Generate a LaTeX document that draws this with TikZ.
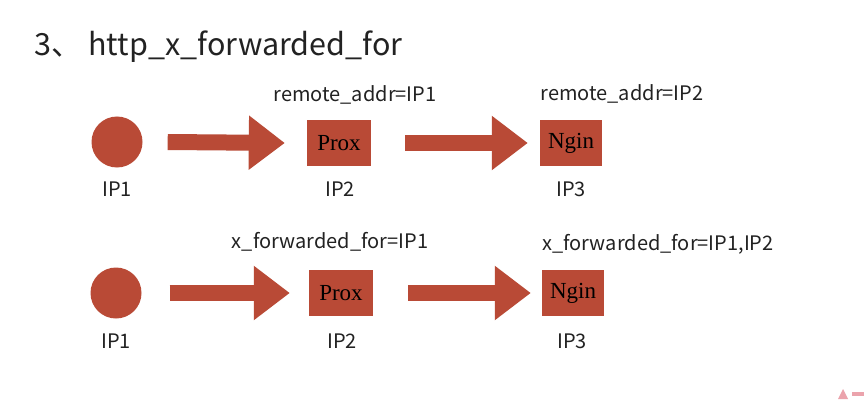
\documentclass[tikz,border=0pt]{standalone}
\usepackage{fontspec}
\setmainfont{Noto Sans CJK SC}
\newfontfamily\labfont{Noto Sans CJK SC}
\newfontfamily\boxfont{Liberation Serif}
\usetikzlibrary{arrows.meta}
\definecolor{brick}{HTML}{B94A36}
\definecolor{txt}{HTML}{222222}
\definecolor{logopink}{HTML}{EBA3AC}
\tikzset{
  dot/.style={circle, fill=brick, minimum size=51pt, inner sep=0pt},
  srv/.style={rectangle, fill=brick, minimum width=64pt, minimum height=46pt, inner sep=0pt, font=\boxfont\fontsize{23}{23}\selectfont, text=black},
  lab/.style={font=\labfont\fontsize{20}{20}\selectfont, text=txt, inner sep=0pt},
  blockarrow/.style={draw=brick, line width=16pt, -{Triangle[width=52pt,length=36pt]}}
}
\begin{document}
\begin{tikzpicture}[x=1pt,y=-1pt]
\useasboundingbox[fill=white] (0,0) rectangle (864,401);
\node[font=\labfont\fontsize{30.5}{30.5}\selectfont, text=txt, anchor=west, inner sep=0pt] (title) at (34,47) {3、 http\_x\_forwarded\_for};

% top row
\node[dot] (c1) at (117,142) {};
\node[srv] (p1) at (339,143) {Prox};
\node[srv, minimum width=62pt] (n1) at (571,143) {Ngin};
\node[lab] (l11) at (117,189) {IP1};
\node[lab] (l12) at (340,189) {IP2};
\node[lab] (l13) at (571,189) {IP3};
\node[lab] (t1) at (355,95) {remote\_addr=IP1};
\node[lab] (t2) at (622,94) {remote\_addr=IP2};
\coordinate (a1s) at ([xshift=25pt]c1.east);
\coordinate (a1e) at ([xshift=-22pt]p1.west);
\coordinate (a2s) at ([xshift=34pt]p1.east);
\coordinate (a2e) at ([xshift=-12pt]n1.west);
\draw[blockarrow] (a1s) -- (a1e);
\draw[blockarrow] (a2s) -- (a2e);

% bottom row
\node[dot] (c2) at (116,293) {};
\node[srv] (p2) at (341,293) {Prox};
\node[srv, minimum width=62pt] (n2) at (573,293) {Ngin};
\node[lab] (l21) at (116,341) {IP1};
\node[lab] (l22) at (342,341) {IP2};
\node[lab] (l23) at (572,341) {IP3};
\node[lab] (t3) at (330,242) {x\_forwarded\_for=IP1};
\node[lab] (t4) at (658,244) {x\_forwarded\_for=IP1,IP2};
\coordinate (b1s) at ([xshift=28pt]c2.east);
\coordinate (b1e) at ([xshift=-19pt]p2.west);
\coordinate (b2s) at ([xshift=35pt]p2.east);
\coordinate (b2e) at ([xshift=-11pt]n2.west);
\draw[blockarrow] (b1s) -- (b1e);
\draw[blockarrow] (b2s) -- (b2e);

% logo fragment
\fill[logopink] (838,399) -- (843,389) -- (848,399) -- cycle;
\fill[logopink] (852,392) rectangle (864,396);
\end{tikzpicture}
\end{document}
